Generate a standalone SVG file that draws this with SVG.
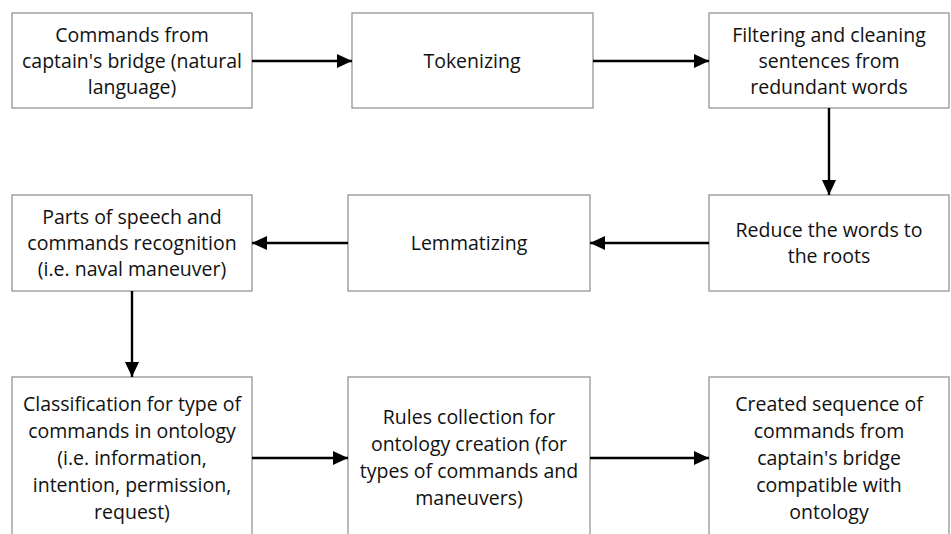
<svg xmlns="http://www.w3.org/2000/svg" width="951" height="534" viewBox="0 0 951 534">
<style>
.box{fill:#fff;stroke:#8c8c8c;stroke-width:1.2}
.t{font-family:"Open Sans","Liberation Sans",sans-serif;font-size:19.5px;fill:#111;text-anchor:middle}
.c{stroke:#000;stroke-width:2.4;fill:none}
</style>
<defs>
<marker id="ah" markerWidth="15" markerHeight="14" refX="15" refY="7" orient="auto" markerUnits="userSpaceOnUse" viewBox="0 0 15 14">
<path d="M0,0 L15,7 L0,14 Z" fill="#000"/>
</marker>
</defs>
<rect width="951" height="534" fill="#fff"/>
<g id="n1"><rect class="box" x="12" y="13" width="240" height="95"/>
<text class="t" x="132" y="42">Commands from</text><text class="t" x="132" y="68">captain's bridge (natural</text><text class="t" x="132" y="94">language)</text></g>
<g id="n2"><rect class="box" x="352" y="13" width="241" height="95"/>
<text class="t" x="472" y="68">Tokenizing</text></g>
<g id="n3"><rect class="box" x="709" y="13" width="240" height="95"/>
<text class="t" x="829" y="42">Filtering and cleaning</text><text class="t" x="829" y="68">sentences from</text><text class="t" x="829" y="94">redundant words</text></g>
<g id="n4"><rect class="box" x="12" y="195" width="240" height="96"/>
<text class="t" x="132" y="224">Parts of speech and</text><text class="t" x="132" y="250">commands recognition</text><text class="t" x="132" y="276">(i.e. naval maneuver)</text></g>
<g id="n5"><rect class="box" x="348" y="195" width="242" height="96"/>
<text class="t" x="469" y="250">Lemmatizing</text></g>
<g id="n6"><rect class="box" x="709" y="195" width="240" height="96"/>
<text class="t" x="829" y="237">Reduce the words to</text><text class="t" x="829" y="263">the roots</text></g>
<g id="n7"><rect class="box" x="12" y="377" width="240" height="170"/>
<text class="t" x="132" y="411">Classification for type of</text><text class="t" x="132" y="438">commands in ontology</text><text class="t" x="132" y="465">(i.e. information,</text><text class="t" x="132" y="492">intention, permission,</text><text class="t" x="132" y="519">request)</text></g>
<g id="n8"><rect class="box" x="348" y="377" width="242" height="170"/>
<text class="t" x="469" y="424">Rules collection for</text><text class="t" x="469" y="451">ontology creation (for</text><text class="t" x="469" y="478">types of commands and</text><text class="t" x="469" y="505">maneuvers)</text></g>
<g id="n9"><rect class="box" x="709" y="377" width="240" height="170"/>
<text class="t" x="829" y="411">Created sequence of</text><text class="t" x="829" y="438">commands from</text><text class="t" x="829" y="465">captain's bridge</text><text class="t" x="829" y="492">compatible with</text><text class="t" x="829" y="519">ontology</text></g>
<g id="connectors">
<line class="c" x1="252" y1="61" x2="352" y2="61" marker-end="url(#ah)"/>
<line class="c" x1="593" y1="61" x2="709" y2="61" marker-end="url(#ah)"/>
<line class="c" x1="829" y1="108" x2="829" y2="195" marker-end="url(#ah)"/>
<line class="c" x1="709" y1="243" x2="590" y2="243" marker-end="url(#ah)"/>
<line class="c" x1="348" y1="243" x2="252" y2="243" marker-end="url(#ah)"/>
<line class="c" x1="132" y1="291" x2="132" y2="377" marker-end="url(#ah)"/>
<line class="c" x1="252" y1="458" x2="348" y2="458" marker-end="url(#ah)"/>
<line class="c" x1="590" y1="458" x2="709" y2="458" marker-end="url(#ah)"/>
</g>
</svg>
